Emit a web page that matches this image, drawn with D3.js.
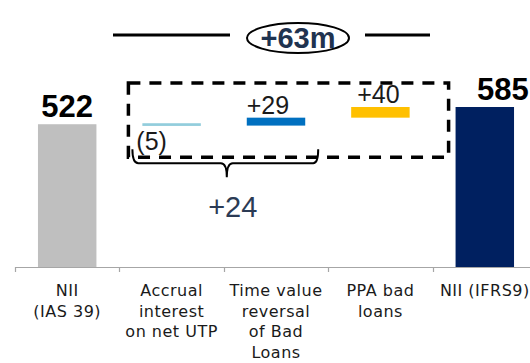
<!DOCTYPE html>
<html><head><meta charset="utf-8">
<script src="https://cdn.jsdelivr.net/npm/d3@7"></script>
<style>
html,body{margin:0;padding:0;background:#fff;}
svg{display:block;}
</style></head>
<body>
<svg id="chart" width="530" height="363"></svg>
<script>
// ---- data ----
const categories = ["NII (IAS 39)", "Accrual interest on net UTP", "Time value reversal of Bad Loans", "PPA bad loans", "NII (IFRS9)"];
const categoryLines = [["NII", "(IAS 39)"], ["Accrual", "interest", "on net UTP"], ["Time value", "reversal", "of Bad", "Loans"], ["PPA bad", "loans"], ["NII (IFRS9)"]];
const values = [522, -5, 29, 40, 585];
const kinds = ["total", "delta", "delta", "delta", "total"];
const valueLabels = ["522", "(5)", "+29", "+40", "585"];
const colors = ["#bfbfbf", "#92cddc", "#0070c0", "#ffc000", "#002060"];
const deltaSumLabel = "+24";
const totalChangeLabel = "+63m";

// ---- layout ----
const svg = d3.select("#chart");
const baseY = 267;
const x = d3.scaleBand().domain(categories).range([15, 537]).padding(0);
const y = d3.scaleLinear().domain([0, 585]).range([baseY, 107]);
const bw = x.bandwidth() * 0.56;

// waterfall computation
let running = 0;
const bars = categories.map((c, i) => {
  let y0, y1;
  if (kinds[i] === "total") { y0 = 0; y1 = values[i]; running = values[i]; }
  else { y0 = running; y1 = Math.min(running + values[i], values[4]); running = running + values[i]; }
  return {c, i, lo: Math.min(y0, y1), hi: Math.max(y0, y1)};
});

// axis
const axisG = svg.append("g").attr("transform", `translate(0,${baseY})`);
axisG.append("line").attr("x1", 15).attr("x2", 530).attr("y1", 0.5).attr("y2", 0.5)
  .attr("stroke", "#a6a6a6").attr("stroke-width", 1.2);
axisG.selectAll("line.tick").data(categories).enter().append("line")
  .attr("x1", d => Math.round(x(d)) + 0.5).attr("x2", d => Math.round(x(d)) + 0.5)
  .attr("y1", 0).attr("y2", 5).attr("stroke", "#a6a6a6").attr("stroke-width", 1.2);

// bars
svg.selectAll("rect.bar").data(bars).enter().append("rect")
  .attr("x", d => x(d.c) + (x.bandwidth() - bw) / 2)
  .attr("width", bw)
  .attr("y", d => y(d.hi) - (y(d.lo) - y(d.hi) < 3 ? 1 : 0))
  .attr("height", d => Math.max(y(d.lo) - y(d.hi), 2.7))
  .attr("fill", (d) => colors[d.i]);

// total labels
svg.selectAll("text.total").data(bars.filter(d => kinds[d.i] === "total")).enter().append("text")
  .attr("x", d => x(d.c) + x.bandwidth() / 2 + (d.i === 4 ? 18 : 0))
  .attr("y", d => y(d.hi) - 7)
  .attr("text-anchor", "middle")
  .attr("font-family", "Liberation Sans, Arial, sans-serif")
  .attr("font-weight", "bold").attr("font-size", 31).attr("fill", "#000")
  .text(d => valueLabels[d.i]);

// delta labels
const dl = bars.filter(d => kinds[d.i] === "delta");
svg.selectAll("text.delta").data(dl).enter().append("text")
  .attr("x", d => x(d.c) + (x.bandwidth() - bw) / 2 + (d.i === 1 ? -6 : (d.i === 3 ? 6 : 0)))
  .attr("y", d => values[d.i] < 0 ? y(d.lo) + 24 : y(d.hi) - 4)
  .attr("font-family", "Liberation Sans, Arial, sans-serif")
  .attr("font-size", 25).attr("fill", "#1a1a1a")
  .text(d => valueLabels[d.i]);

// category labels
const labG = svg.selectAll("g.cat").data(categories).enter().append("g")
  .attr("transform", d => `translate(${x(d) + x.bandwidth() / 2},${baseY + 29})`);
labG.each(function(d, i) {
  d3.select(this).selectAll("text").data(categoryLines[i]).enter().append("text")
    .attr("x", 0).attr("y", (t, j) => j * 20.5)
    .attr("text-anchor", "middle")
    .attr("font-family", "DejaVu Sans, sans-serif")
    .attr("font-size", 16).attr("letter-spacing", 0.5).attr("fill", "#1a1a1a")
    .text(t => t);
});

// dashed box around deltas
const boxL = x(categories[1]) + 9, boxR = x(categories[3]) + x.bandwidth() + 16;
const boxT = y(585) - 24, boxB = y(522) + 33;
svg.append("rect").attr("x", boxL).attr("y", boxT).attr("width", boxR - boxL).attr("height", boxB - boxT)
  .attr("fill", "none").attr("stroke", "#000").attr("stroke-width", 3.5).attr("stroke-dasharray", "12,9");

// brace
const bL = boxL + 4, bR = x(categories[2]) + x.bandwidth() - 10, bM = x(categories[2]) + 3, bY = boxB + 6;
svg.append("path")
  .attr("d", `M${bL},${bY - 14} Q${bL},${bY} ${bL + 6},${bY} H${bM - 6} Q${bM},${bY} ${bM},${bY + 14} Q${bM},${bY} ${bM + 6},${bY} H${bR - 5} Q${bR},${bY} ${bR},${bY - 14}`)
  .attr("fill", "none").attr("stroke", "#000").attr("stroke-width", 2);
svg.append("text").attr("x", bM + 6).attr("y", bY + 54).attr("text-anchor", "middle")
  .attr("font-family", "Liberation Sans, Arial, sans-serif").attr("font-size", 29).attr("fill", "#2b3b55")
  .text(deltaSumLabel);

// top annotation
const cx = 298, cy = 38;
svg.append("line").attr("x1", 113).attr("x2", 230).attr("y1", 35).attr("y2", 35).attr("stroke", "#000").attr("stroke-width", 3);
svg.append("line").attr("x1", 365).attr("x2", 430).attr("y1", 35).attr("y2", 35).attr("stroke", "#000").attr("stroke-width", 3);
svg.append("ellipse").attr("cx", cx).attr("cy", cy).attr("rx", 51).attr("ry", 15)
  .attr("fill", "#fff").attr("stroke", "#000").attr("stroke-width", 2);
svg.append("text").attr("x", cx).attr("y", cy + 10).attr("text-anchor", "middle")
  .attr("font-family", "Liberation Sans, Arial, sans-serif").attr("font-weight", "bold")
  .attr("font-size", 29).attr("fill", "#1f3350").text(totalChangeLabel);
</script>
</body></html>
